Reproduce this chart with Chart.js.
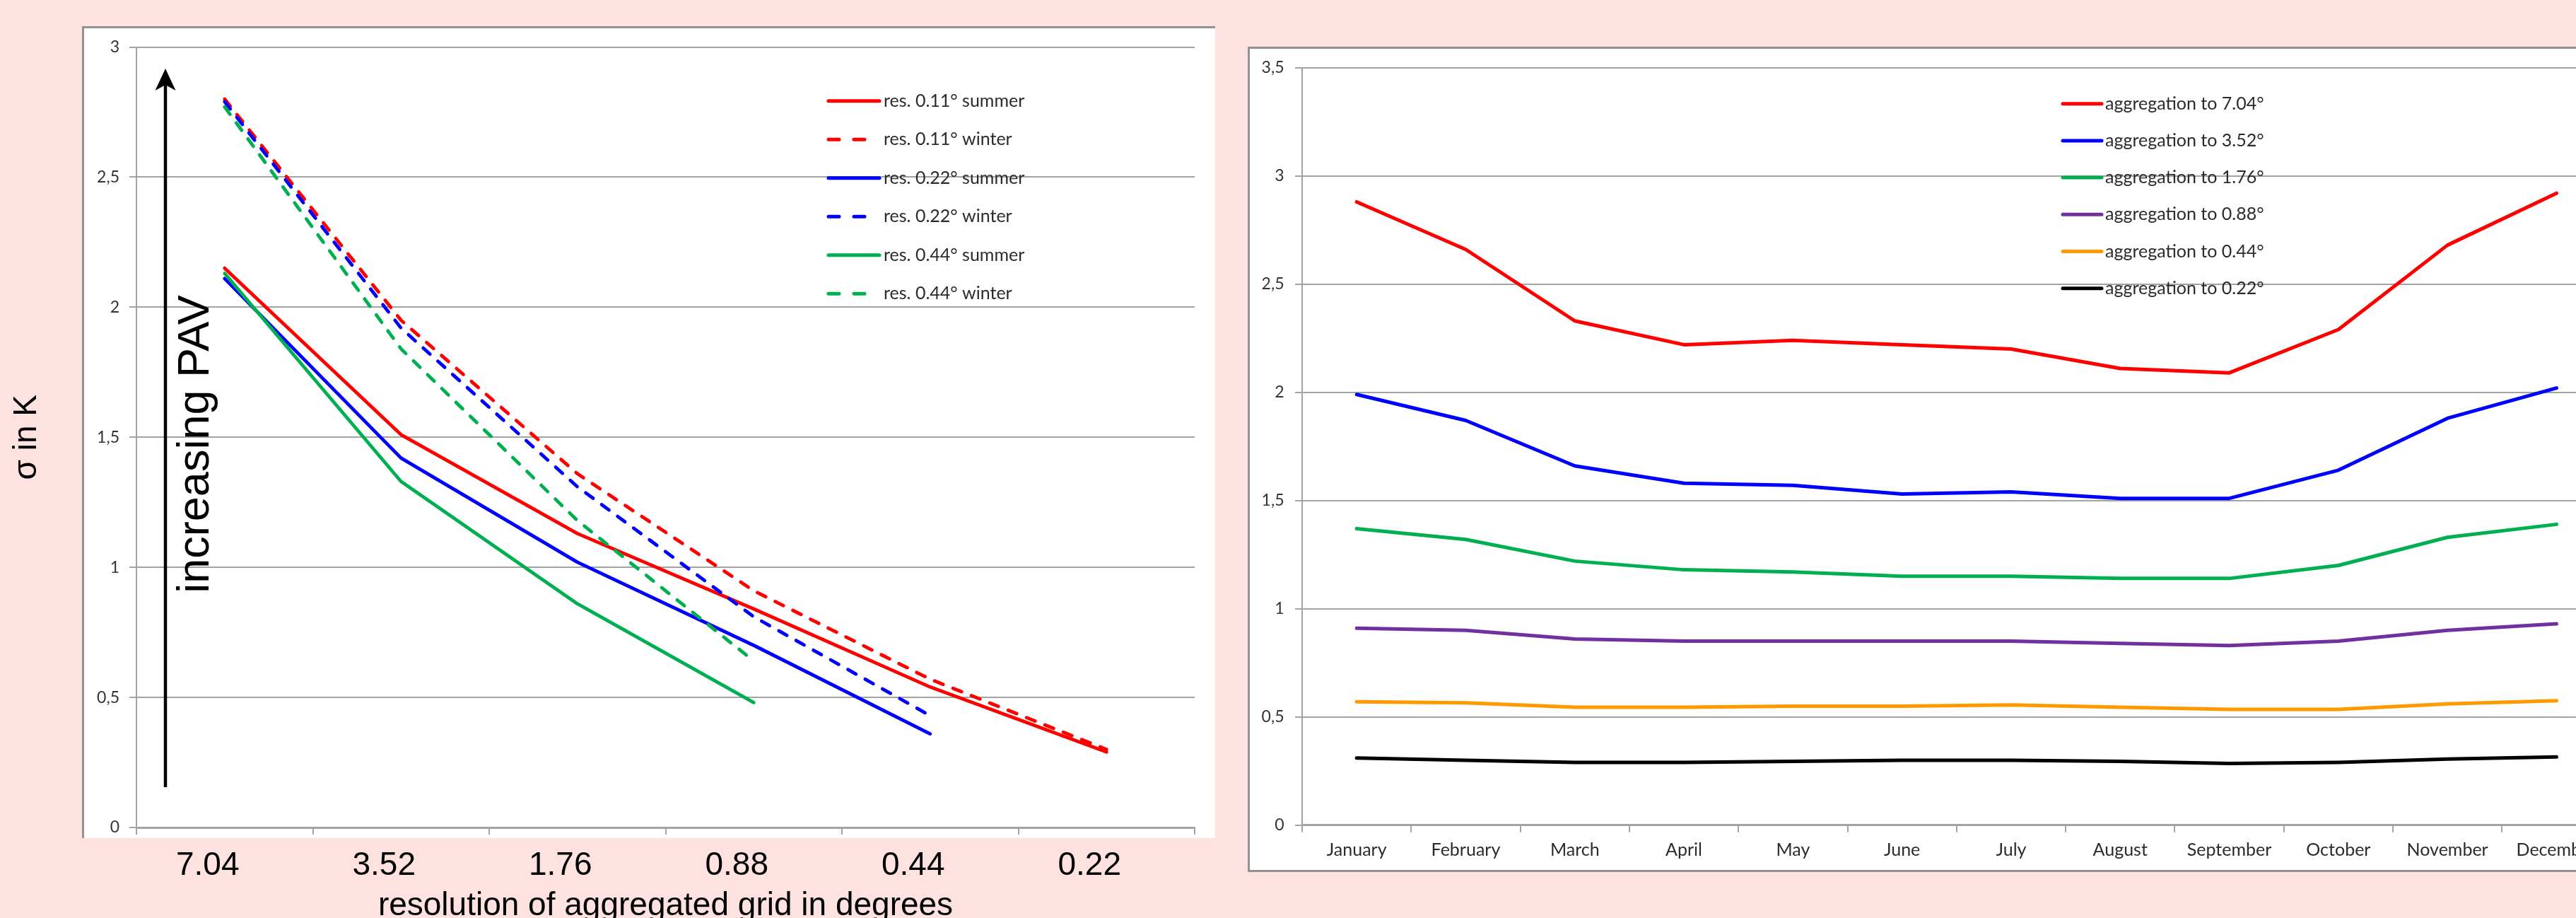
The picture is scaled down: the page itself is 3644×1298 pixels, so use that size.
<!DOCTYPE html>
<html>
<head>
<meta charset="utf-8">
<script src="https://cdn.jsdelivr.net/npm/chart.js@4.4.1/dist/chart.umd.min.js"></script>
<style>
  html, body { margin: 0; padding: 0; width: 3644px; height: 1298px; overflow: hidden; background: #fee2df; }
  #stage { position: relative; width: 3644px; height: 1298px; overflow: hidden; }
  .box { position: absolute; background: #ffffff; box-sizing: border-box; }
  #boxL { left: 116px; top: 37px; width: 1603px; height: 1148px; border-left: 3px solid #919191; border-top: 3px solid #919191; }
  #boxR { left: 1765px; top: 66px; width: 1960px; height: 1167px; border: 3px solid #919191; }
  canvas { position: absolute; }
  #cL { left: 0; top: 0; }
  #cR { left: 1765px; top: 66px; }
</style>
</head>
<body>
<div id="stage">
  <div class="box" id="boxL"></div>
  <div class="box" id="boxR"></div>
  <canvas id="cL" width="1740" height="1320" style="width:1740px;height:1320px"></canvas>
  <canvas id="cR" width="1955" height="1167" style="width:1955px;height:1167px"></canvas>
</div>
<script>
// ---------- Left chart data ----------
const resolutions = ['7.04', '3.52', '1.76', '0.88', '0.44', '0.22'];
const res011Summer = [2.15, 1.51, 1.13, 0.84, 0.54, 0.29];
const res011Winter = [2.80, 1.95, 1.36, 0.91, 0.57, 0.30];
const res022Summer = [2.11, 1.42, 1.02, 0.70, 0.36, null];
const res022Winter = [2.79, 1.92, 1.31, 0.81, 0.43, null];
const res044Summer = [2.13, 1.33, 0.86, 0.48, null, null];
const res044Winter = [2.77, 1.84, 1.18, 0.64, null, null];
const leftLabels = ['res. 0.11° summer', 'res. 0.11° winter', 'res. 0.22° summer', 'res. 0.22° winter', 'res. 0.44° summer', 'res. 0.44° winter'];

// ---------- Right chart data ----------
const months = ['January', 'February', 'March', 'April', 'May', 'June', 'July', 'August', 'September', 'October', 'November', 'December'];
const agg704 = [2.88, 2.66, 2.33, 2.22, 2.24, 2.22, 2.20, 2.11, 2.09, 2.29, 2.68, 2.92];
const agg352 = [1.99, 1.87, 1.66, 1.58, 1.57, 1.53, 1.54, 1.51, 1.51, 1.64, 1.88, 2.02];
const agg176 = [1.37, 1.32, 1.22, 1.18, 1.17, 1.15, 1.15, 1.14, 1.14, 1.20, 1.33, 1.39];
const agg088 = [0.91, 0.90, 0.86, 0.85, 0.85, 0.85, 0.85, 0.84, 0.83, 0.85, 0.90, 0.93];
const agg044 = [0.57, 0.565, 0.545, 0.545, 0.55, 0.55, 0.555, 0.545, 0.535, 0.535, 0.56, 0.575];
const agg022 = [0.31, 0.30, 0.29, 0.29, 0.295, 0.30, 0.30, 0.295, 0.285, 0.29, 0.305, 0.315];
const rightLabels = ['aggregation to 7.04°', 'aggregation to 3.52°', 'aggregation to 1.76°', 'aggregation to 0.88°', 'aggregation to 0.44°', 'aggregation to 0.22°'];

const RED = '#ff0000', BLUE = '#0000ff', GREEN = '#00b050', PURPLE = '#7030a0', ORANGE = '#ff9900', BLACK = '#000000';
const GRID = '#a3a3a3';
const commaFmt = v => String(v).replace('.', ',');

const inlineLegend = {
  id: 'inlineLegend',
  afterDatasetsDraw(chart, args, o) {
    const ctx = chart.ctx;
    ctx.save();
    chart.data.datasets.forEach((ds, i) => {
      const y = o.y + i * o.dy;
      ctx.beginPath();
      ctx.lineWidth = o.lineWidth;
      ctx.lineCap = 'round';
      ctx.strokeStyle = ds.borderColor;
      ctx.setLineDash(ds.borderDash && ds.borderDash.length ? o.dash : []);
      ctx.moveTo(o.x, y);
      ctx.lineTo(o.x + o.len, y);
      ctx.stroke();
      ctx.setLineDash([]);
      ctx.font = o.font;
      ctx.fillStyle = o.color;
      ctx.textAlign = 'left';
      ctx.textBaseline = 'middle';
      ctx.fillText(ds.label, o.x + o.len + o.gap, y);
    });
    ctx.restore();
  }
};

const pavArrow = {
  id: 'pavArrow',
  afterDatasetsDraw(chart) {
    const ctx = chart.ctx;
    ctx.save();
    ctx.strokeStyle = '#000';
    ctx.fillStyle = '#000';
    ctx.lineWidth = 4.5;
    ctx.beginPath();
    ctx.moveTo(234, 1113);
    ctx.lineTo(234, 118);
    ctx.stroke();
    ctx.beginPath();
    ctx.moveTo(234, 97);
    ctx.lineTo(248.5, 128);
    ctx.lineTo(234, 120);
    ctx.lineTo(219.5, 128);
    ctx.closePath();
    ctx.fill();
    ctx.translate(295, 628);
    ctx.rotate(-Math.PI / 2);
    ctx.font = '63px "Liberation Sans", Arial, sans-serif';
    ctx.textAlign = 'center';
    ctx.textBaseline = 'alphabetic';
    ctx.fillText('increasing PAV', 0, 0);
    ctx.restore();
  }
};

function lds(label, data, color, dashed, width, n, i) {
  return {
    label, data, borderColor: color, backgroundColor: color,
    borderWidth: width, borderDash: dashed ? [13, 15] : [],
    borderCapStyle: 'round', borderJoinStyle: 'round',
    pointRadius: 0, pointHoverRadius: 0, tension: 0, fill: false,
    spanGaps: false, order: n - i
  };
}

const leftSeries = [res011Summer, res011Winter, res022Summer, res022Winter, res044Summer, res044Winter];
const leftColors = [RED, RED, BLUE, BLUE, GREEN, GREEN];
const leftDatasets = leftSeries.map((d, i) => lds(leftLabels[i], d, leftColors[i], i % 2 === 1, 4.8, 6, i));

new Chart(document.getElementById('cL'), {
  type: 'line',
  data: { labels: resolutions, datasets: leftDatasets },
  options: {
    responsive: false, animation: false, devicePixelRatio: 1,
    layout: { padding: { left: 0, top: 66.5, right: 50, bottom: 0 } },
    plugins: {
      legend: { display: false }, tooltip: { enabled: false },
      inlineLegend: { x: 1172, y: 142.7, dy: 54.5, len: 72, gap: 6, lineWidth: 5, dash: [15, 21],
        font: '25px Lato, sans-serif', color: '#2b2b2b' }
    },
    scales: {
      x: {
        type: 'category', offset: true,
        grid: { offset: true, drawOnChartArea: false, drawTicks: true, tickLength: 10, color: GRID, lineWidth: 2 },
        border: { color: GRID, width: 3 },
        ticks: { color: '#000', font: { family: '"Liberation Sans", Arial, sans-serif', size: 46 }, padding: 17, labelOffset: -24, maxRotation: 0, autoSkip: false },
        title: { display: true, text: 'resolution of aggregated grid in degrees', color: '#000',
          font: { family: '"Liberation Sans", Arial, sans-serif', size: 46 }, padding: { top: 0, bottom: 11 } },
        afterFit(s) { s.height = 150; }
      },
      y: {
        min: 0, max: 3,
        grid: { color: GRID, lineWidth: 2, tickLength: 10 },
        border: { color: GRID, width: 2 },
        ticks: { stepSize: 0.5, color: '#333', font: { family: 'Lato, sans-serif', size: 23 }, padding: 14, callback: commaFmt },
        title: { display: true, text: 'σ in K', color: '#000',
          font: { family: '"Liberation Sans", Arial, sans-serif', size: 46 }, padding: { top: 11, bottom: 0 } },
        afterFit(s) { s.width = 193; }
      }
    }
  },
  plugins: [pavArrow, inlineLegend]
});

const rightSeries = [agg704, agg352, agg176, agg088, agg044, agg022];
const rightColors = [RED, BLUE, GREEN, PURPLE, ORANGE, BLACK];
const rightDatasets = rightSeries.map((d, i) => lds(rightLabels[i], d, rightColors[i], false, 5, 6, i));

new Chart(document.getElementById('cR'), {
  type: 'line',
  data: { labels: months, datasets: rightDatasets },
  options: {
    responsive: false, animation: false, devicePixelRatio: 1,
    layout: { padding: { left: 0, top: 29.7, right: 26.4, bottom: 0 } },
    plugins: {
      legend: { display: false }, tooltip: { enabled: false },
      inlineLegend: { x: 1153, y: 80.7, dy: 52.2, len: 55, gap: 5, lineWidth: 5, dash: [],
        font: '25px Lato, sans-serif', color: '#2b2b2b' }
    },
    scales: {
      x: {
        type: 'category', offset: true,
        grid: { offset: true, drawOnChartArea: false, drawTicks: true, tickLength: 10, color: GRID, lineWidth: 2 },
        border: { color: GRID, width: 3 },
        ticks: { color: '#2b2b2b', font: { family: 'Lato, sans-serif', size: 25 }, padding: 10, maxRotation: 0, autoSkip: false },
        afterFit(s) { s.height = 66.3; }
      },
      y: {
        min: 0, max: 3.5,
        grid: { color: GRID, lineWidth: 2, tickLength: 10 },
        border: { color: GRID, width: 2 },
        ticks: { stepSize: 0.5, color: '#333', font: { family: 'Lato, sans-serif', size: 23 }, padding: 15.5, callback: commaFmt },
        afterFit(s) { s.width = 77; }
      }
    }
  },
  plugins: [inlineLegend]
});
</script>
</body>
</html>
